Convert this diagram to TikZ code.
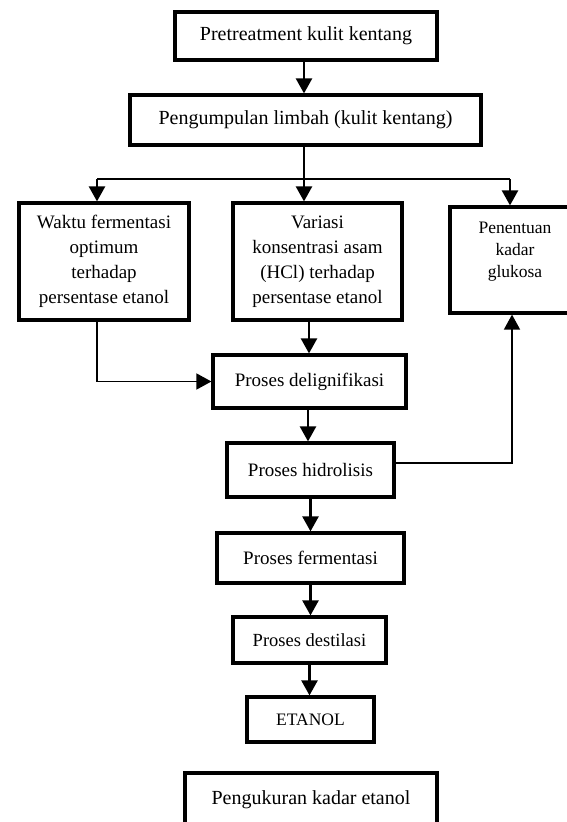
\documentclass[tikz,border=0pt]{standalone}
\usepackage{fontspec}
\setmainfont{Liberation Serif}
\usetikzlibrary{arrows.meta}
\begin{document}
\begin{tikzpicture}[x=1pt,y=-1pt,
  box/.style={draw, line width=3.2pt, align=center, inner sep=0pt,
    font=\fontsize{19}{25}\selectfont},
  arr/.style={line width=2.4pt, -{Triangle[length=15pt,width=16pt]}},
  thinarr/.style={line width=1.6pt, -{Triangle[length=15pt,width=16pt]}},
  ln/.style={line width=2.4pt}]
\useasboundingbox[fill=white] (0,0) rectangle (566,822);
\node[box, minimum width=262pt, minimum height=48pt, font=\fontsize{20}{24}\selectfont] (b1) at (306,36) {Pretreatment kulit kentang};
\node[box, minimum width=351pt, minimum height=50pt, font=\fontsize{20}{24}\selectfont] (b2) at (305.5,120) {Pengumpulan limbah (kulit kentang)};
\node[box, minimum width=170pt, minimum height=117pt] (waktu) at (104,261.5) {Waktu fermentasi\\optimum\\terhadap\\persentase etanol};
\node[box, minimum width=169pt, minimum height=117pt] (variasi) at (317.5,261.5) {Variasi\\konsentrasi asam\\(HCl) terhadap\\persentase etanol};
\node[box, minimum width=130pt, minimum height=106pt, font=\fontsize{17.5}{22}\selectfont] (pen) at (515,260) {Penentuan\\kadar\\glukosa\\[-2pt]\mbox{}};
\node[box, minimum width=193pt, minimum height=53pt] (delig) at (309.5,381.5) {Proses delignifikasi};
\node[box, minimum width=167pt, minimum height=54pt] (hidro) at (310.5,470) {Proses hidrolisis};
\node[box, minimum width=187pt, minimum height=50pt] (ferm) at (310.5,558) {Proses fermentasi};
\node[box, minimum width=153pt, minimum height=46pt, font=\fontsize{18.5}{24}\selectfont] (dest) at (309.5,640) {Proses destilasi};
\node[box, minimum width=127pt, minimum height=45pt, font=\fontsize{17.5}{22}\selectfont] (etanol) at (310.5,719.5) {ETANOL};
\node[box, minimum width=252pt, minimum height=53pt, font=\fontsize{20}{24}\selectfont] (peng) at (311,799.5) {Pengukuran kadar etanol};
\coordinate (br) at (304,179);
\coordinate (wl) at (97,179);
\coordinate (pr) at (510,179);
\draw[arr] ([xshift=-2pt]b1.south) -- ([xshift=-2pt]b1.south |- b2.north);
\draw[ln] (b2.south -| br) -- (br);
\draw[ln] (wl) -- (pr);
\draw[arr] (br) -- (br |- variasi.north);
\draw[arr] (wl) -- (wl |- waktu.north);
\draw[arr] (pr) -- (pr |- pen.north);
\draw[arr] ([xshift=-8.5pt]variasi.south) -- ([xshift=-8.5pt]variasi.south |- delig.north);
\draw[thinarr] (waktu.south -| wl) |- (delig.west);
\draw[arr] ([xshift=-1.5pt]delig.south) -- ([xshift=-1.5pt]delig.south |- hidro.north);
\draw[thinarr] ([yshift=7pt]hidro.east) -| ([xshift=-3pt]pen.south);
\draw[arr] (hidro.south) -- (hidro.south |- ferm.north);
\draw[arr] (ferm.south) -- (ferm.south |- dest.north);
\draw[arr] (dest.south) -- (dest.south |- etanol.north);
\end{tikzpicture}
\end{document}
